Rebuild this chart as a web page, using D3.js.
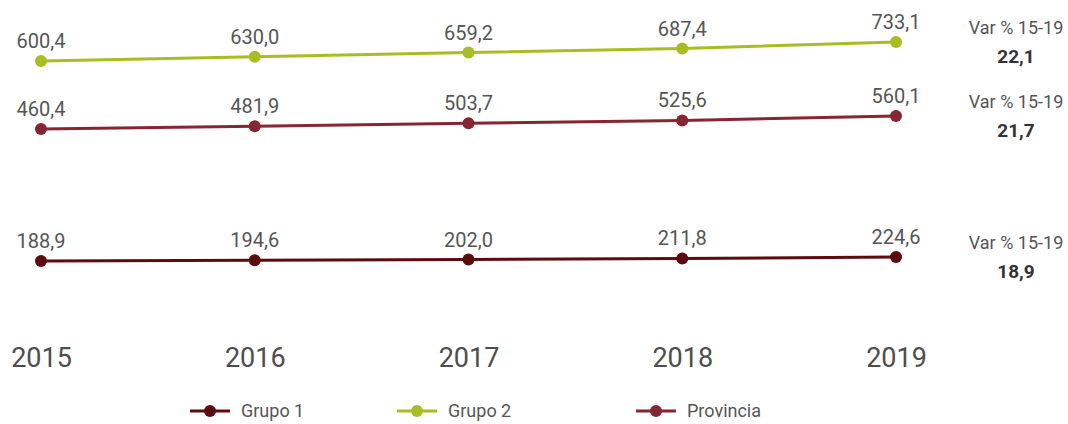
<!DOCTYPE html>
<html>
<head>
<meta charset="utf-8">
<script src="https://cdn.jsdelivr.net/npm/d3@7"></script>
<style>
  body { margin: 0; background: #fff; }
  svg { display: block; font-family: Roboto, "Noto Sans", sans-serif; }
</style>
</head>
<body>
<svg id="chart"></svg>
<script>
const width = 1068
const height = 424

const years = [2015, 2016, 2017, 2018, 2019]
const grupo1 = [188.9, 194.6, 202.0, 211.8, 224.6]
const grupo2 = [600.4, 630.0, 659.2, 687.4, 733.1]
const provincia = [460.4, 481.9, 503.7, 525.6, 560.1]
const seriesNames = ['Grupo 1', 'Grupo 2', 'Provincia']
const varLabel = 'Var % 15-19'
const varValues = [18.9, 22.1, 21.7]

const colours = {
    'Grupo 1': '#5a0c0f',
    'Grupo 2': '#a9bc22',
    'Provincia': '#862633'
}

// each series sits in its own strip, with its own vertical scale
const bands = {
    'Grupo 2': [61, 42],
    'Provincia': [129, 116],
    'Grupo 1': [261, 257]
}

const locale = d3.formatLocale({decimal: ',', thousands: '.', grouping: [3], currency: ['', '€']})
const fmt = locale.format('.1f')

const series = [
    {name: 'Grupo 2', values: grupo2, variation: varValues[1]},
    {name: 'Provincia', values: provincia, variation: varValues[2]},
    {name: 'Grupo 1', values: grupo1, variation: varValues[0]}
]

const svg = d3.select('#chart')
    .attr('width', width)
    .attr('height', height)
    .attr('viewBox', [0, 0, width, height])

const x = d3.scalePoint()
    .domain(years)
    .range([41, 896])

series.forEach(s => {
    const y = d3.scaleLinear()
        .domain([s.values[0], s.values[s.values.length - 1]])
        .range(bands[s.name])

    const pts = s.values.map((v, i) => ({year: years[i], value: v}))
    const g = svg.append('g').attr('class', 'series')

    g.append('path')
        .datum(pts)
        .attr('fill', 'none')
        .attr('stroke', colours[s.name])
        .attr('stroke-width', 3)
        .attr('d', d3.line().x(d => x(d.year)).y(d => y(d.value)))

    g.selectAll('circle')
        .data(pts)
        .join('circle')
        .attr('cx', d => x(d.year))
        .attr('cy', d => y(d.value))
        .attr('r', 6)
        .attr('fill', colours[s.name])

    g.selectAll('text')
        .data(pts)
        .join('text')
        .attr('x', d => x(d.year))
        .attr('y', d => y(d.value) - 13)
        .attr('text-anchor', 'middle')
        .attr('font-size', 20)
        .attr('fill', '#555')
        .text(d => fmt(d.value))

    // variation note on the right
    const yTop = bands[s.name][1]
    svg.append('text')
        .attr('x', 1016)
        .attr('y', yTop - 8)
        .attr('text-anchor', 'middle')
        .attr('font-size', 18)
        .attr('fill', '#555')
        .text(varLabel)
    svg.append('text')
        .attr('x', 1016)
        .attr('y', yTop + 21)
        .attr('text-anchor', 'middle')
        .attr('font-size', 19)
        .attr('font-weight', 'bold')
        .attr('fill', '#333')
        .text(fmt(s.variation))
})

// x axis labels
const xAxis = svg.append('g')
    .attr('transform', 'translate(0, 367)')
    .call(d3.axisBottom(x).tickSize(0).tickPadding(0))
xAxis.select('.domain').remove()
xAxis.selectAll('text')
    .attr('dy', 0)
    .attr('font-size', 27)
    .attr('font-family', 'Roboto, sans-serif')
    .attr('fill', '#4d4d4d')

// legend
const legendX = [190, 397, 636]
const legend = svg.append('g')
    .selectAll('g')
    .data(seriesNames)
    .join('g')
    .attr('transform', (d, i) => `translate(${legendX[i]}, 411)`)

legend.append('line')
    .attr('x1', 0).attr('x2', 40)
    .attr('stroke', d => colours[d])
    .attr('stroke-width', 3)
legend.append('circle')
    .attr('cx', 20)
    .attr('r', 6)
    .attr('fill', d => colours[d])
legend.append('text')
    .attr('x', 51)
    .attr('dy', '0.35em')
    .attr('font-size', 18)
    .attr('fill', '#555')
    .text(d => d)
</script>
</body>
</html>
